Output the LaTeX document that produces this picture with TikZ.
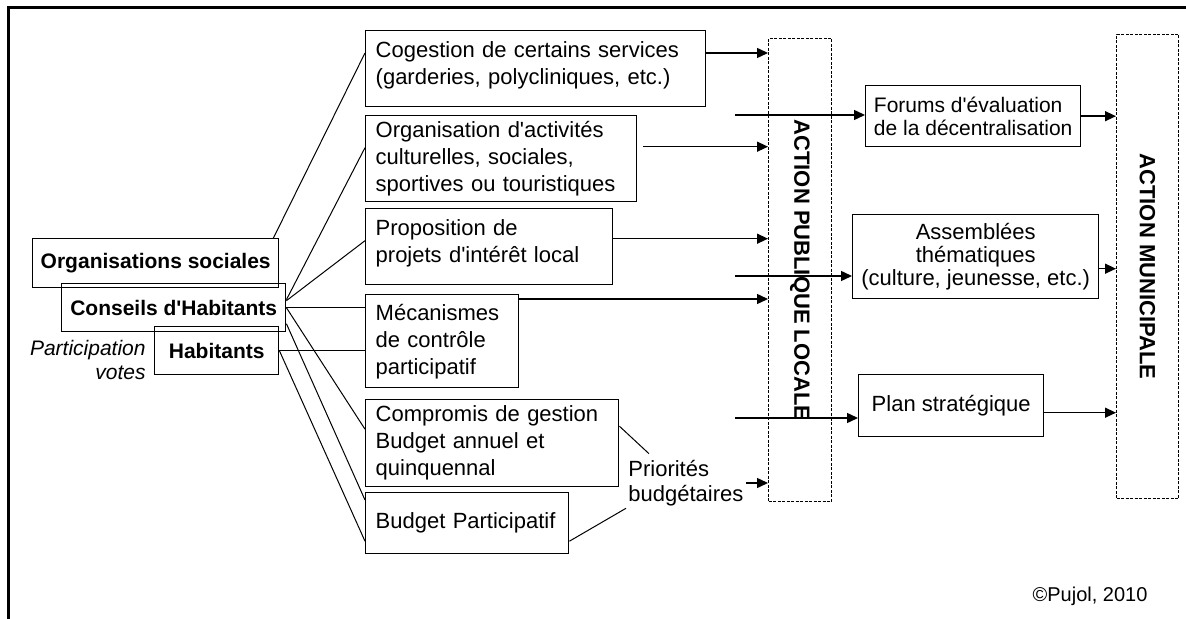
\documentclass[tikz,border=0pt]{standalone}
\usepackage{graphicx}
\usepackage{fontspec}
\setmainfont{Liberation Sans}[Ligatures=TeXOff]
\usetikzlibrary{arrows.meta}

\begin{document}
\begin{tikzpicture}[x=0.5pt,y=-0.5pt,
		bloc/.style={draw, line width=0.7pt, anchor=north west, align=left, inner xsep=5pt, inner ysep=1pt, font=\fontsize{11}{13.5}\selectfont},
		bloccentre/.style={draw, line width=0.7pt, anchor=north west, align=center, inner xsep=1.5pt, font=\fontsize{11}{11.5}\selectfont},
		acteur/.style={draw, line width=0.7pt, anchor=north west, inner sep=0pt, font=\fontsize{10.5}{12}\selectfont\bfseries},
		pointille/.style={draw, line width=0.5pt, dash pattern=on 1.5pt off 0.75pt, anchor=north west, inner sep=0pt, font=\fontsize{11}{12}\selectfont\bfseries},
		fleche/.style={line width=0.7pt, -{Triangle[length=5.5pt,width=5pt]}},
		trait/.style={line width=0.5pt}
			]
	\useasboundingbox (0,0) rectangle (1186,619);
	\draw[line width=1.5pt] (8,619) -- (8,8) -- (1186,8);

	\node[acteur, minimum width=123pt, minimum height=24.5pt] (orgsoc) at (32,238) {Organisations sociales};
	\node[acteur, minimum width=112pt, minimum height=24pt] (conseils) at (61,283) {Conseils d'Habitants};
	\node[acteur, minimum width=62pt, minimum height=24pt] (habitants) at (154,326) {Habitants};
	\node[anchor=east, align=right, inner sep=0pt, font=\fontsize{10.5}{12}\selectfont\itshape] (vote) at (146,360) {Participation\\votes};

	\node[bloc, text width=160pt, minimum height=38pt] (cogestion) at (365,30) {Cogestion de certains services\\(garderies, polycliniques, etc.)\\[-8pt]\mbox{}};
	\node[bloc, text width=125.5pt, minimum height=43pt] (organisation) at (365,115) {Organisation d'activités\\culturelles, sociales,\\sportives ou touristiques};
	\node[bloc, text width=113.5pt, minimum height=38pt] (proposition) at (365,208) {Proposition de\\projets d'intérêt local\\[-8pt]\mbox{}};
	\node[bloc, text width=66.5pt, minimum height=46.5pt] (mecanismes) at (365,294) {Mécanismes\\de contrôle\\participatif};
	\node[bloc, text width=116.5pt, minimum height=43.5pt] (compromis) at (365,399) {Compromis de gestion\\Budget annuel et\\quinquennal};
	\node[bloc, text width=91.5pt, minimum height=30.5pt] (budget) at (365,492) {Budget Participatif};

	\node[pointille, minimum width=31.5pt, minimum height=231.5pt] (apl) at (768,38) {\rotatebox{-90}{ACTION PUBLIQUE LOCALE}};
	\node[pointille, minimum width=31pt, minimum height=232pt] (am) at (1116,34) {\rotatebox{-90}{ACTION MUNICIPALE}};

	\node[bloccentre, align=left, minimum width=107.5pt, minimum height=30.5pt, font=\fontsize{10.5}{11.5}\selectfont] (forums) at (865,85) {Forums d'évaluation\\de la décentralisation};
	\node[bloccentre, minimum width=123pt, minimum height=42pt] (assemblees) at (852,214) {Assemblées\\thématiques\\(culture, jeunesse, etc.)};
	\node[bloccentre, minimum width=92.5pt, minimum height=31pt] (plan) at (858,374) {Plan stratégique};

	\node[anchor=west, align=left, inner sep=1pt, font=\fontsize{11}{12.5}\selectfont] (prio) at (626,483) {Priorités\\budgétaires};
	\node[font=\fontsize{10}{12}\selectfont, inner sep=0pt] (credit) at (1090,596) {©Pujol, 2010};

	\coordinate (depart1) at (735,115);
	\coordinate (depart2) at (735,276);
	\coordinate (depart3) at (735,418);
	\coordinate (sortie1) at ([yshift=-11.5pt]cogestion.north east);
	\coordinate (sortie2) at ([xshift=3pt,yshift=6pt]organisation.east);
	\coordinate (sortie3) at ([yshift=4pt]proposition.east);
	\coordinate (sortie4) at ([yshift=-2.5pt]mecanismes.north east);
	\coordinate (sortie5) at ([yshift=-6pt]assemblees.east);
	\coordinate (sortie6) at ([yshift=-3.5pt]plan.east);

	\draw[trait] ([xshift=-3pt]orgsoc.north east) -- ([yshift=-11.5pt]cogestion.north west);
	\draw[trait] ([yshift=4pt]conseils.east) -- ([yshift=5.5pt]organisation.west);
	\draw[trait] ([yshift=3.5pt]conseils.east) -- ([yshift=3pt]proposition.west);
	\draw[trait] (conseils.east) -- (conseils.east -| mecanismes.west);
	\draw[trait] (habitants.east) -- (habitants.east -| mecanismes.west);
	\draw[trait] (conseils.east) -- ([yshift=7pt]compromis.west);
	\draw[trait] ([yshift=-8pt]conseils.east) -- ([yshift=-4pt]budget.north west);
	\draw[trait] (habitants.east) -- ([yshift=-9pt]budget.west);
	\draw[trait] ([yshift=8.5pt]compromis.east) -- ([xshift=11.5pt,yshift=2pt]prio.north west);
	\draw[trait] ([yshift=-9pt]budget.east) -- (prio.south west);

	\draw[fleche] (sortie1) -- (sortie1 -| apl.west);
	\draw[fleche] (sortie2) -- (sortie2 -| apl.west);
	\draw[fleche] (sortie3) -- (sortie3 -| apl.west);
	\draw[fleche] (sortie4) -- (sortie4 -| apl.west);
	\draw[fleche] (prio.east) -- (prio.east -| apl.west);
	\draw[fleche] (depart1) -- (depart1 -| forums.west);
	\draw[fleche] (forums.east) -- (forums.east -| am.west);
	\draw[fleche] (depart2) -- (depart2 -| assemblees.west);
	\draw[fleche] (sortie5) -- (sortie5 -| am.west);
	\draw[fleche] (depart3) -- (depart3 -| plan.west);
	\draw[fleche] (sortie6) -- (sortie6 -| am.west);
\end{tikzpicture}
\end{document}
